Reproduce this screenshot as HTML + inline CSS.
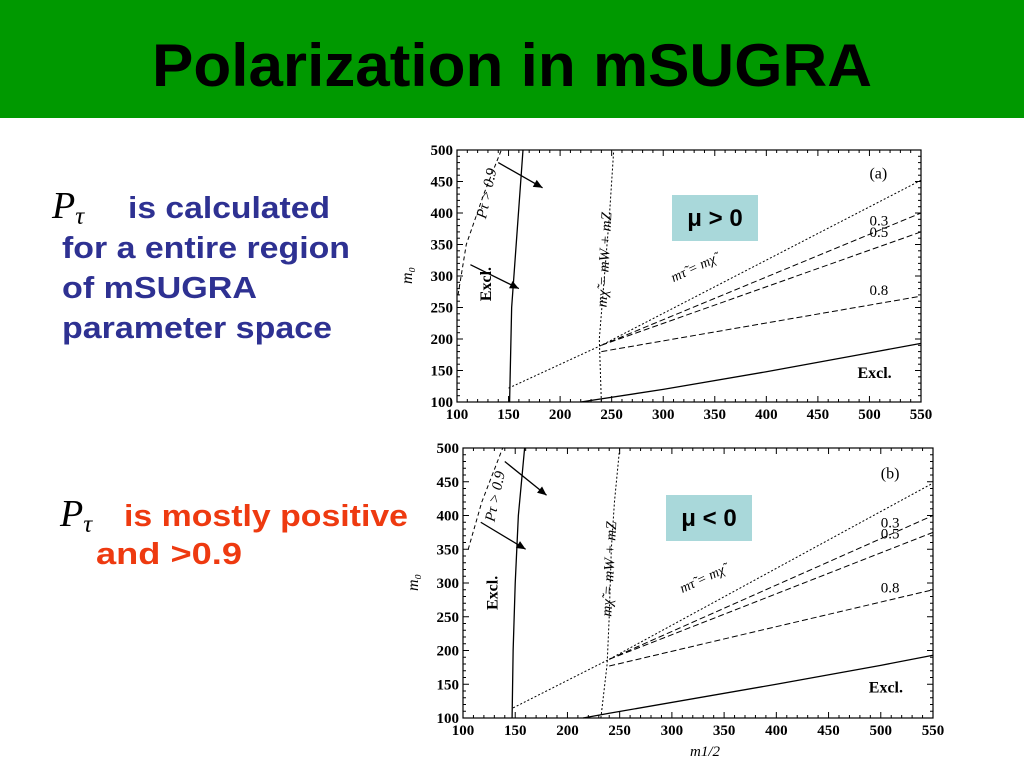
<!DOCTYPE html>
<html><head><meta charset="utf-8"><style>
body{margin:0;width:1024px;height:768px;overflow:hidden;background:#fff;font-family:"Liberation Sans",sans-serif}
svg{position:absolute;left:0;top:0}
</style></head><body>
<svg id="s" width="1024" height="768" xmlns="http://www.w3.org/2000/svg" font-family="Liberation Serif, serif">
<rect x="0" y="0" width="1024" height="118" fill="#009900"/>
<text x="512" y="86" text-anchor="middle" font-family="Liberation Sans" font-weight="bold" font-size="60" fill="#000" textLength="720" lengthAdjust="spacingAndGlyphs">Polarization in mSUGRA</text>
<g font-family="Liberation Sans" font-weight="bold" font-size="31" fill="#2e3192">
<text x="52" y="218" font-family="Liberation Serif" font-style="italic" font-weight="normal" font-size="38" fill="#000">P<tspan font-size="25" dy="6">τ</tspan></text>
<text x="128" y="218" textLength="202" lengthAdjust="spacingAndGlyphs">is calculated</text>
<text x="62" y="258" textLength="288" lengthAdjust="spacingAndGlyphs">for a entire region</text>
<text x="62" y="298" textLength="195" lengthAdjust="spacingAndGlyphs">of mSUGRA</text>
<text x="62" y="338" textLength="270" lengthAdjust="spacingAndGlyphs">parameter space</text>
</g>
<g font-family="Liberation Sans" font-weight="bold" font-size="31" fill="#ee3a10">
<text x="60" y="526" font-family="Liberation Serif" font-style="italic" font-weight="normal" font-size="38" fill="#000">P<tspan font-size="25" dy="6">τ</tspan></text>
<text x="124" y="526" textLength="284" lengthAdjust="spacingAndGlyphs">is mostly positive</text>
<text x="96" y="564" textLength="146" lengthAdjust="spacingAndGlyphs">and  &gt;0.9</text>
</g>
<g id="plots"></g>
</svg>
<script>
// shared axis ticks
const xTicks=[100,150,200,250,300,350,400,450,500,550];
const yTicks=[100,150,200,250,300,350,400,450,500];
// panel (a) mu>0
const aSolidV=[[151,100],[153,250],[164,500]];
const aPtau=[[101,270],[109,350],[126,430],[143,500]];
const aMw=[[240,100],[238,200],[243,300],[248,400],[252,500]];
const aStau=[[150,122],[240,190],[550,452]];
const a03=[[240,190],[550,400]];
const a05=[[240,190],[550,370]];
const a08=[[240,180],[550,268]];
const aLow=[[220,100],[300,120],[400,148],[500,178],[550,193]];
const aArrows=[[[140,480],[183,440]],[[113,318],[160,280]]];
// panel (b) mu<0
const bSolidV=[[147,100],[148,200],[150,300],[153,400],[159,500]];
const bPtau=[[105,350],[118,420],[138,500]];
const bMw=[[232,100],[238,180],[240,250],[242,350],[245,420],[250,500]];
const bStau=[[148,115],[240,187],[550,448]];
const b03=[[240,187],[550,400]];
const b05=[[240,187],[550,375]];
const b08=[[240,177],[550,290]];
const bLow=[[215,100],[240,107],[400,150],[500,178],[550,193]];
const bArrows=[[[140,480],[180,430]],[[117,390],[160,350]]];

const NS="http://www.w3.org/2000/svg";
const root=document.getElementById('plots');
function mk(tag,attrs,parent){const e=document.createElementNS(NS,tag);for(const k in attrs)e.setAttribute(k,attrs[k]);(parent||root).appendChild(e);return e;}
function panel(P){
  const g=mk('g',{});
  
  
  const sx=v=>P.l+(v-100)/450*(P.r-P.l), sy=v=>P.b-(v-100)/400*(P.b-P.t);
  mk('rect',{x:P.l,y:P.t,width:P.r-P.l,height:P.b-P.t,fill:'none',stroke:'#000','stroke-width':1.2},g);
  xTicks.forEach(v=>{
    const t=mk('text',{x:sx(v),y:P.b+17,'text-anchor':'middle','font-size':15,'font-weight':'bold'},g);t.textContent=v;
    
    
    for(let k=0;k<5&&v<550;k++){const xx=sx(v+k*10),h=k?3:6;
      mk('line',{x1:xx,x2:xx,y1:P.b,y2:P.b-h,stroke:'#000'},g);mk('line',{x1:xx,x2:xx,y1:P.t,y2:P.t+h,stroke:'#000'},g);}
  });
  yTicks.forEach(v=>{
    const t=mk('text',{x:P.l-4,y:sy(v)+5,'text-anchor':'end','font-size':15,'font-weight':'bold'},g);t.textContent=v;
    
    
    for(let k=0;k<5&&v<500;k++){const yy=sy(v+k*10),h=k?3:6;
      mk('line',{y1:yy,y2:yy,x1:P.l,x2:P.l+h,stroke:'#000'},g);mk('line',{y1:yy,y2:yy,x1:P.r,x2:P.r-h,stroke:'#000'},g);}
  });
  const line=(pts,dash,nm,w)=>{const p=mk('polyline',{points:pts.map(q=>sx(q[0])+','+sy(q[1])).join(' '),fill:'none',stroke:'#000','stroke-width':w||1,'stroke-dasharray':dash||'none'},g);
    
    };
  line(P.solid,null,'excl-boundary-left',1.3);
  line(P.ptau,'4,3','ptau-contour');
  line(P.mw,'2,2','mw-threshold-line');
  line(P.stau,'2,2','stau-chi-line');
  line(P.c03,'6,3','contour-0-3');
  line(P.c05,'6,3','contour-0-5');
  line(P.c08,'6,3','contour-0-8');
  line(P.low,null,'excl-boundary-lower',1.3);
  P.arrows.forEach(a=>{const x1=sx(a[0][0]),y1=sy(a[0][1]),x2=sx(a[1][0]),y2=sy(a[1][1]);
    const ar=mk('line',{x1,y1,x2,y2,stroke:'#000','stroke-width':1.3},g);
    
    
    const an=Math.atan2(y2-y1,x2-x1),L=9,W=4;
    mk('polygon',{points:`${x2},${y2} ${x2-L*Math.cos(an)+W*Math.sin(an)},${y2-L*Math.sin(an)-W*Math.cos(an)} ${x2-L*Math.cos(an)-W*Math.sin(an)},${y2-L*Math.sin(an)+W*Math.cos(an)}`,fill:'#000'},g);});
  const txt=(x,y,s,o)=>{const t=mk('text',Object.assign({x,y,'font-size':15},o||{}),g);t.textContent=s;
    
    return t;};
  txt(sx(500),sy(455),P.tag,{'font-size':16});
  txt(sx(500),sy(P.l03),'0.3');txt(sx(500),sy(P.l05),'0.5');txt(sx(500),sy(P.l08),'0.8');
  txt(sx(500)-12,sy(138),'Excl.',{'font-weight':'bold','font-size':16});
  txt(0,0,'Excl.',{'font-weight':'bold','font-size':16,transform:`translate(${sx(P.exX)},${sy(260)}) rotate(-90)`});
  txt(0,0,'P\u03C4 > 0.9',{'font-style':'italic','font-size':15,transform:`translate(${sx(P.ptX)},${sy(390)}) rotate(-78)`});
  txt(0,0,'m\u03C7\u0303 = mW + mZ',{'font-style':'italic','font-size':15,transform:`translate(${sx(P.mwX)},${sy(250)}) rotate(-87)`});
  txt(0,0,'m\u03C4\u0303 = m\u03C7\u0303',{'font-style':'italic','font-size':14,transform:`translate(${sx(310)},${sy(P.stY)}) rotate(-25)`});
  const bx=mk('rect',{x:P.bx,y:P.by,width:86,height:46,fill:'#a9d8da'},g);
  
  
  txt(P.bx+43,P.by+31,P.mu,{'text-anchor':'middle','font-family':'Liberation Sans','font-weight':'bold','font-size':24});
  txt(0,0,'m\u2080',{'font-style':'italic','font-size':16,transform:`translate(${P.l-45},${(P.t+P.b)/2+8}) rotate(-90)`});
  if(P.xlab) txt((P.l+P.r)/2-8,P.b+38,'m1/2',{'font-style':'italic','font-size':15});
}
panel({name:'plot-a-mu-positive',l:457,r:921,t:150,b:402,solid:aSolidV,ptau:aPtau,mw:aMw,stau:aStau,c03:a03,c05:a05,c08:a08,low:aLow,arrows:aArrows,tag:'(a)',l03:380,l05:362,l08:270,exX:133,ptX:128,mwX:245,stY:290,bx:672,by:195,mu:'\u03BC > 0'});
panel({name:'plot-b-mu-negative',l:463,r:933,t:448,b:718,solid:bSolidV,ptau:bPtau,mw:bMw,stau:bStau,c03:b03,c05:b05,c08:b08,low:bLow,arrows:bArrows,tag:'(b)',l03:382,l05:366,l08:286,exX:133,ptX:130,mwX:242,stY:285,bx:666,by:495,mu:'\u03BC < 0',xlab:true});
</script>
</body></html>
